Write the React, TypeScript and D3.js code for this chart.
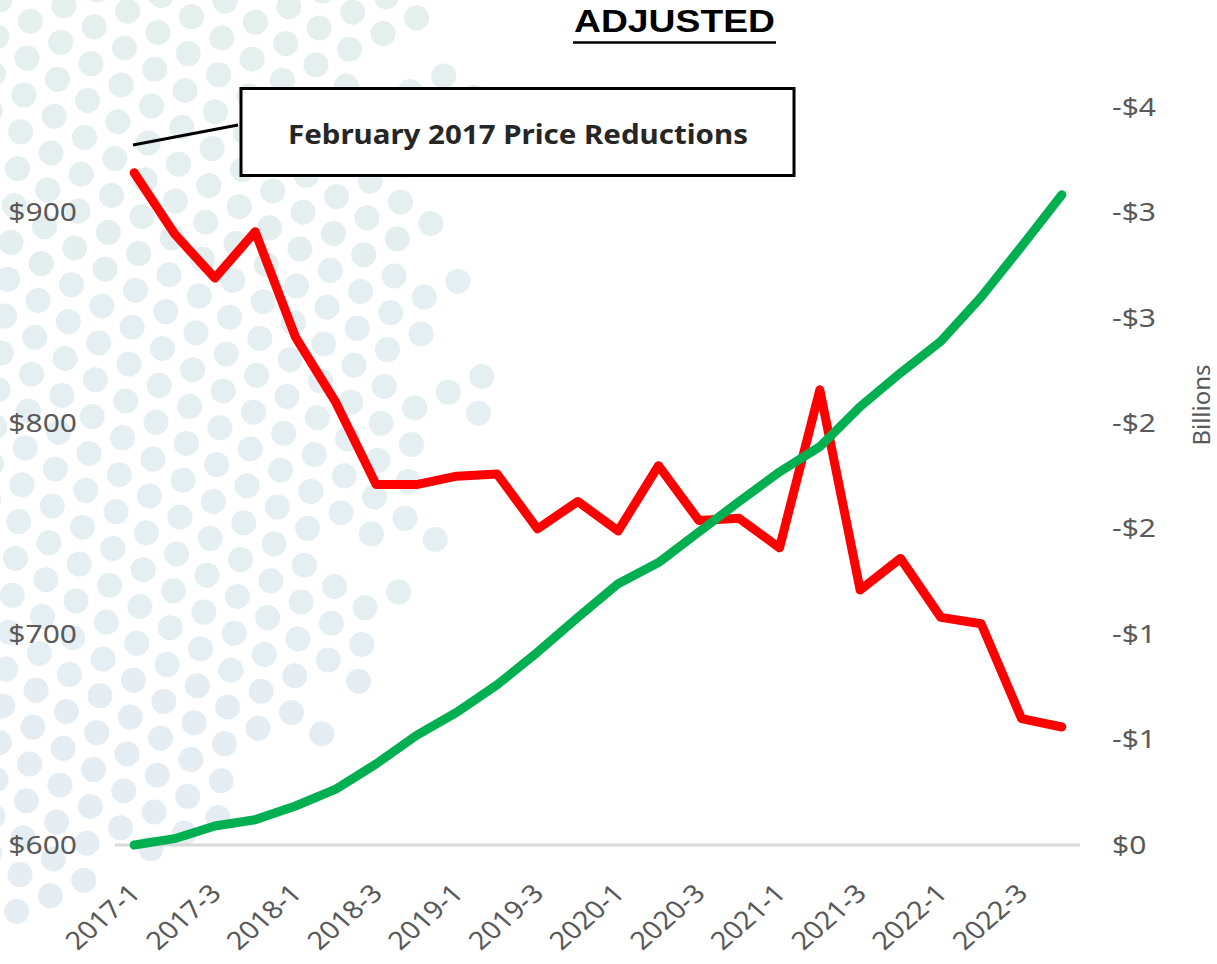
import { useEffect, useRef } from 'react';
import * as d3 from 'd3';

// quarters on the x axis
const quarters = [
  '2017-1', '2017-2', '2017-3', '2017-4',
  '2018-1', '2018-2', '2018-3', '2018-4',
  '2019-1', '2019-2', '2019-3', '2019-4',
  '2020-1', '2020-2', '2020-3', '2020-4',
  '2021-1', '2021-2', '2021-3', '2021-4',
  '2022-1', '2022-2', '2022-3', '2022-4',
];

// red line, left axis ($)
const priceValues = [
  919, 890, 869, 891, 841, 810, 771, 771, 775, 776, 750, 763,
  749, 780, 754, 755, 741, 816, 721, 736, 708, 705, 660, 656,
];

// green line, right axis (billions)
const savingsValues = [
  0, -0.03, -0.09, -0.12, -0.185, -0.265, -0.385, -0.52, -0.63, -0.76, -0.915, -1.08,
  -1.24, -1.34, -1.485, -1.63, -1.77, -1.89, -2.08, -2.24, -2.39, -2.6, -2.84, -3.085,
];

const leftTicks = [600, 700, 800, 900];
const rightTicks = [0, -0.5, -1, -1.5, -2, -2.5, -3, -3.5];

const chartTitle = 'ADJUSTED';
const noteText = 'February 2017 Price Reductions';
const rightAxisTitle = 'Billions';

const svgWidth = 1217;
const svgHeight = 964;
const font = "'Noto Sans', 'Open Sans', sans-serif";
const labelColor = '#595959';

function App() {
  const ref = useRef(null);

  useEffect(() => {
    const svg = d3.select(ref.current);
    svg.selectAll('*').remove();

    const baseY = 845;
    const topY = 2;

    const x = d3.scaleBand().domain(quarters).range([114, 1082]).padding(0);
    const yLeft = d3.scaleLinear().domain([600, 1000]).range([baseY, topY]);
    const yRight = d3.scaleLinear().domain([0, -4]).range([baseY, topY]);
    const cx = (q: string) => (x(q) as number) + x.bandwidth() / 2;

    // Background dot pattern (decoration)
    const dots = svg.append('g');
    const hash = (i: number, j: number) => {
      const s = Math.sin(i * 127.1 + j * 311.7) * 43758.5453;
      return s - Math.floor(s);
    };
    const edge = d3
      .scaleLinear()
      .domain([0, 250, 450, 600, 750, 850, 920])
      .range([480, 530, 530, 440, 360, 250, 90])
      .clamp(true);
    const dotColor = d3.interpolateRgb('#e5efee', '#e5edf3');
    const step = 37;
    const angle = (-25 * Math.PI) / 180;
    for (let j = -15; j < 45; j++) {
      for (let i = -15; i < 40; i++) {
        const gx = i * step + (j % 2 ? step / 2 : 0);
        const gy = j * step * 0.866;
        const px = gx * Math.cos(angle) - gy * Math.sin(angle);
        const py = gx * Math.sin(angle) + gy * Math.cos(angle);
        if (px < -15 || py < -15 || px > 620 || py > 930) continue;
        const density = Math.max(0, Math.min(1, (edge(py) - px) / 140));
        if (hash(i, j) >= density) continue;
        dots
          .append('circle')
          .attr('cx', px)
          .attr('cy', py)
          .attr('r', 12.5)
          .attr('fill', dotColor(py / 900));
      }
    }

    // Baseline
    svg
      .append('line')
      .attr('x1', 115)
      .attr('x2', 1080)
      .attr('y1', baseY)
      .attr('y2', baseY)
      .attr('stroke', '#d9d9d9')
      .attr('stroke-width', 3);

    // Left axis
    const leftAxis = svg
      .append('g')
      .attr('transform', 'translate(77, 0)')
      .call(d3.axisLeft(yLeft).tickValues(leftTicks).tickSize(0).tickPadding(0).tickFormat((d) => `$${d}`));
    leftAxis.select('.domain').remove();
    leftAxis
      .selectAll('text')
      .attr('font-family', font)
      .attr('font-size', 25)
      .attr('fill', labelColor)
      .attr('transform', 'scale(1.2, 1)');

    // Right axis
    const rightAxis = svg
      .append('g')
      .attr('transform', 'translate(1112, 0)')
      .call(
        d3
          .axisRight(yRight)
          .tickValues(rightTicks)
          .tickSize(0)
          .tickPadding(0)
          .tickFormat((d) => {
            const v = d as number;
            return v === 0 ? '$0' : `-$${Math.round(Math.abs(v))}`;
          })
      );
    rightAxis.select('.domain').remove();
    rightAxis
      .selectAll('text')
      .attr('font-family', font)
      .attr('font-size', 25)
      .attr('fill', labelColor)
      .attr('transform', 'scale(1.2, 1)');

    // Right axis title
    svg
      .append('text')
      .attr('transform', 'translate(1210, 405) rotate(-90)')
      .attr('text-anchor', 'middle')
      .attr('font-family', font)
      .attr('font-size', 24)
      .attr('fill', labelColor)
      .text(rightAxisTitle);

    // X axis
    const xAxis = svg
      .append('g')
      .attr('transform', `translate(0, ${baseY})`)
      .call(
        d3
          .axisBottom(x)
          .tickValues(quarters.filter((_, i) => i % 2 === 0))
          .tickSize(0)
      );
    xAxis.select('.domain').remove();
    xAxis
      .selectAll('text')
      .attr('font-family', font)
      .attr('font-size', 25)
      .attr('fill', labelColor)
      .attr('text-anchor', 'end')
      .attr('x', 0)
      .attr('y', 0)
      .attr('dy', 0)
      .attr('transform', 'translate(8, 50) scale(1.15, 1) rotate(-45)');

    // Lines
    const priceLine = d3
      .line<number>()
      .x((_, i) => cx(quarters[i]))
      .y((d) => yLeft(d));
    const savingsLine = d3
      .line<number>()
      .x((_, i) => cx(quarters[i]))
      .y((d) => yRight(d));

    svg
      .append('path')
      .datum(priceValues)
      .attr('d', priceLine)
      .attr('fill', 'none')
      .attr('stroke', '#ff0000')
      .attr('stroke-width', 9)
      .attr('stroke-linejoin', 'round')
      .attr('stroke-linecap', 'round');

    svg
      .append('path')
      .datum(savingsValues)
      .attr('d', savingsLine)
      .attr('fill', 'none')
      .attr('stroke', '#00b050')
      .attr('stroke-width', 9)
      .attr('stroke-linejoin', 'round')
      .attr('stroke-linecap', 'round');

    // Annotation
    svg
      .append('line')
      .attr('x1', 238)
      .attr('y1', 125)
      .attr('x2', 133)
      .attr('y2', 145)
      .attr('stroke', '#000')
      .attr('stroke-width', 3);
    svg
      .append('rect')
      .attr('x', 241)
      .attr('y', 88.5)
      .attr('width', 553)
      .attr('height', 87)
      .attr('fill', '#fff')
      .attr('stroke', '#000')
      .attr('stroke-width', 3);
    svg
      .append('text')
      .attr('x', 288)
      .attr('y', 144)
      .attr('font-family', font)
      .attr('font-weight', 'bold')
      .attr('font-size', 27)
      .attr('fill', '#262626')
      .attr('textLength', 460)
      .attr('lengthAdjust', 'spacingAndGlyphs')
      .text(noteText);

    // Title
    svg
      .append('text')
      .attr('x', 574)
      .attr('y', 32)
      .attr('font-family', "'Liberation Sans', Arial, sans-serif")
      .attr('font-weight', 'bold')
      .attr('font-size', 32)
      .attr('fill', '#000')
      .attr('textLength', 201)
      .attr('lengthAdjust', 'spacingAndGlyphs')
      .text(chartTitle);
    svg
      .append('line')
      .attr('x1', 573)
      .attr('x2', 776)
      .attr('y1', 42.5)
      .attr('y2', 42.5)
      .attr('stroke', '#000')
      .attr('stroke-width', 2.5);
  }, []);

  return (
    <svg
      ref={ref}
      width={svgWidth}
      height={svgHeight}
      style={{ position: 'absolute', left: 0, top: 0, background: '#fff' }}
    ></svg>
  );
}

export default App;
